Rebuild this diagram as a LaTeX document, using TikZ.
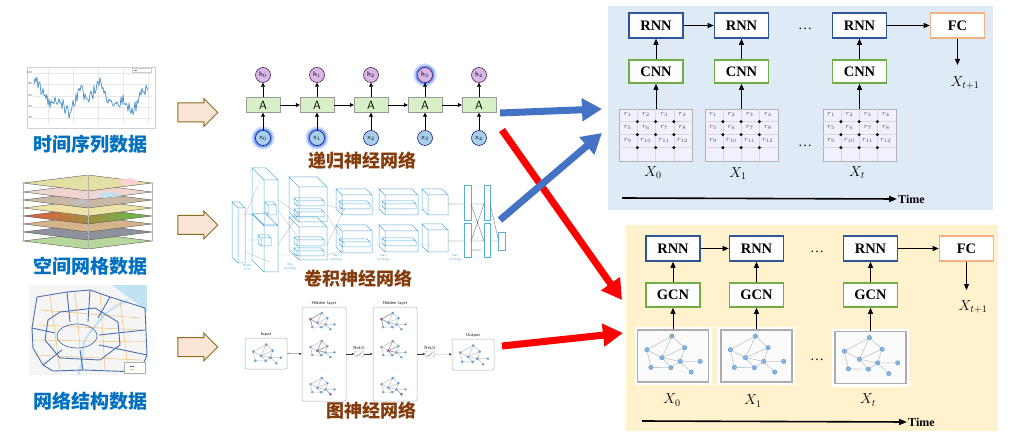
\documentclass[tikz,border=0pt]{standalone}
\usepackage{fontspec}
\setmainfont{Liberation Serif}
\newfontfamily\cjk{Noto Sans CJK SC}
\usetikzlibrary{arrows.meta,shapes.arrows,positioning}

\definecolor{panelblue}{HTML}{DEEBF7}
\definecolor{panelyellow}{HTML}{FFF2CC}
\definecolor{rnnblue}{HTML}{2F5597}
\definecolor{cnngreen}{HTML}{70AD47}
\definecolor{fcorange}{HTML}{F4B183}
\definecolor{datablue}{HTML}{0070C0}
\definecolor{nnbrown}{HTML}{843C0C}
\definecolor{arrowblue}{HTML}{4472C4}
\definecolor{peach}{HTML}{FBE5D6}
\definecolor{peachline}{HTML}{8C6D1F}
\definecolor{cellgreen}{HTML}{D8F0C8}
\definecolor{hpurple}{HTML}{D9B8E8}
\definecolor{xblue}{HTML}{A8D0EC}
\definecolor{gnodeblue}{HTML}{5B9BD5}
\definecolor{alexblue}{HTML}{5AAFD9}
\definecolor{tsblue}{HTML}{4A90C8}
\definecolor{mapolive}{HTML}{E4E0A4}
\definecolor{mappink}{HTML}{EFD4D0}
\definecolor{mapbrown}{HTML}{C8B8A4}
\definecolor{mapsand}{HTML}{EEE2A6}
\definecolor{mapred}{HTML}{E8583A}
\definecolor{mapyellow}{HTML}{EED84A}
\definecolor{mapleaf}{HTML}{5CC44A}
\definecolor{maptan}{HTML}{D6B48A}
\definecolor{mapgray}{HTML}{8F929A}
\definecolor{mapgreen}{HTML}{B6D89C}
\definecolor{rivercyan}{HTML}{BFE3F0}
\definecolor{roadblue}{HTML}{4A6FB0}
\definecolor{roadorange}{HTML}{F2BE6E}

\newcommand{\cnnbox}[5]{%
\draw[alexline] (#1,#2) rectangle ++(#3,#4) (#1,#2) -- ++(-#5,-#5) -- ++(#3,0) -- (#1+#3,#2) (#1,#2+#4) -- ++(-#5,-#5) -- ++(0,-#4);
}

\tikzset{
  rnnbox/.style={draw=rnnblue, line width=1.6pt, fill=white, minimum width=54pt, minimum height=25pt, inner sep=0pt, font=\bfseries\fontsize{14.5}{15}\selectfont},
  convbox/.style={rnnbox, draw=cnngreen, minimum height=23pt},
  fcbox/.style={rnnbox, draw=fcorange},
  flow/.style={-{Triangle[length=6pt,width=5pt]}, line width=0.8pt},
  timeline/.style={-{Triangle[length=8pt,width=6pt]}, line width=1.6pt},
  timetext/.style={font=\bfseries\fontsize{12}{12}\selectfont, anchor=west, inner sep=1pt},
  xlabel/.style={font=\fontsize{14}{14}\selectfont},
  dotstext/.style={font=\fontsize{14}{14}\selectfont},
  datalabel/.style={font=\cjk\bfseries\fontsize{19}{19}\selectfont, text=datablue},
  nnlabel/.style={font=\cjk\bfseries\fontsize{18}{18}\selectfont, text=nnbrown},
  blockarrow/.style={single arrow, draw=peachline, fill=peach, line width=1pt, minimum height=40pt, inner sep=9pt, single arrow head extend=4.5pt},
  bigarrow/.style={line width=7pt, -{Triangle[length=20pt,width=22pt]}},
  cellA/.style={draw=gray!80, fill=cellgreen, minimum width=34pt, minimum height=15pt, inner sep=0pt, font=\sffamily\fontsize{12}{12}\selectfont},
  hstate/.style={circle, draw=violet!50!black, line width=0.5pt, fill=hpurple, minimum size=15pt, inner sep=0pt, font=\sffamily\fontsize{7}{7}\selectfont},
  xstate/.style={hstate, draw=blue!40!black, fill=xblue},
  glowing/.style={preaction={draw=blue!70!cyan, line width=8pt, opacity=0.2}, preaction={draw=blue!70!cyan, line width=4pt, opacity=0.45}},
  smallflow/.style={-{Triangle[length=4pt,width=4pt]}, line width=0.8pt},
  alexline/.style={draw=alexblue, line width=0.5pt},
  alexwire/.style={draw=gray!55, line width=0.3pt},
  gedge/.style={draw=gray!45, line width=0.6pt},
  gnode/.style={fill=gnodeblue!75, draw=gnodeblue},
  gridframe/.style={draw=gray!60, line width=0.8pt, fill=white!94!blue, minimum width=73pt, minimum height=52pt, inner sep=0pt},
  graphframe/.style={draw=gray!65, line width=1.2pt, fill=white!97!gray, minimum width=71pt, minimum height=52pt, inner sep=0pt, preaction={draw=white, line width=6pt}},
  gridline/.style={draw=gray!30, line width=0.5pt},
  rlabel/.style={font=\fontsize{7}{7}\selectfont, text=gray!60!black, inner sep=0pt},
  gpanel/.style={draw=gray!60, line width=0.5pt, rounded corners=2pt, fill=white, inner sep=0pt},
  relubox/.style={draw=gray!70, line width=0.4pt, rounded corners=1pt, minimum width=9pt, minimum height=6pt, inner sep=0pt},
  tinyflow/.style={-{Triangle[length=2.5pt,width=2pt]}, line width=0.4pt, draw=gray!40!black},
  tinytext/.style={font=\sffamily\fontsize{4.5}{5}\selectfont, text=gray!20!black, inner sep=0.5pt},
  ticktext/.style={font=\sffamily\fontsize{3}{3}\selectfont, text=gray!60!black, inner sep=0pt, anchor=east},
  alextext/.style={font=\sffamily\fontsize{3.5}{4}\selectfont, text=alexblue, inner sep=0pt, align=center},
  maplayer/.style={draw=gray!70!black, line width=0.4pt},
  road/.style={draw=roadblue, line width=0.9pt, line join=round},
  orangeroad/.style={draw=roadorange, line width=0.5pt},
  netg/.pic={
    \coordinate (-n1) at (35,6.7);
    \coordinate (-n2) at (10,20.3);
    \coordinate (-n3) at (47.7,18.3);
    \coordinate (-n4) at (25,28.3);
    \coordinate (-n5) at (43.3,32);
    \coordinate (-n6) at (63.3,32);
    \coordinate (-n7) at (14,38);
    \coordinate (-n8) at (34,38.3);
    \coordinate (-n9) at (54.3,42.7);
    \draw[gedge] (-n2) -- (-n1) -- (-n4) -- (-n2) -- (-n7) -- (-n8) -- (-n4) -- (-n5) -- (-n6) (-n1) -- (-n3) -- (-n5) -- (-n9) (-n3) -- (-n4) (-n8) -- (-n5);
    \foreach \g in {1,...,9} \fill[gnode] (-n\g) circle (2.2pt);
  },
  regiongrid/.pic={
    \foreach \c in {1,2,3} \draw[gridline] (\c*18.25,0) -- (\c*18.25,52);
    \foreach \r in {1,2,3} \draw[gridline] (0,\r*13) -- (73,\r*13);
    \foreach \r in {0,1,2} \foreach \c in {0,1,2,3} {
      \pgfmathtruncatemacro\rk{4*\r+\c+1}
      \node[rlabel] at (\c*18.25+8.5,\r*13+6) {$r_{\rk}$};
    }
    \foreach \r in {1,2,3} \foreach \c in {1,2,3} \fill (\c*18.25,\r*13) circle (1.7pt);
  }
}

\begin{document}
\begin{tikzpicture}[x=1pt,y=-1pt]
\useasboundingbox (0,0) rectangle (1022,438);
\fill[white] (0,0) rectangle (1022,438);

\draw[gray!35, fill=white] (27,67) rectangle (155,128);
\draw[gray!18] (33,73) -- (152,73) (33,84) -- (152,84) (33,96) -- (152,96) (33,107) -- (152,107) (33,118) -- (152,118);
\draw[gray!18] (48,69) -- (48,124) (73,69) -- (73,124) (98,69) -- (98,124) (123,69) -- (123,124) (148,69) -- (148,124);
\node[ticktext] (t100) at (32,73) {100};
\node[ticktext] (t80) at (32,84) {80};
\node[ticktext] (t60) at (32,96) {60};
\node[ticktext] (t40) at (32,107) {40};
\node[ticktext] (t20) at (32,118) {20};
\draw[gray!40, fill=white, line width=0.3pt] (132,68.5) rectangle (151,72.5);
\draw[tsblue, line width=0.6pt] (133.5,70.5) -- (137,70.5);
\pgfmathsetseed{5}
\draw[tsblue, line width=0.7pt, line join=round] plot[domain=34:148, samples=115] (\x,{98+9*sin(6*\x+60)+6*sin(17*\x)+7*rand});
\node[datalabel] (tsl) at (90,144) {时间序列数据};

\foreach \yc/\col in {241/mapgreen, 232/mapgray, 224/maptan} \draw[maplayer, fill=\col] (23,\yc) -- (88,\yc-8) -- (152,\yc) -- (88,\yc+8) -- cycle;
\shade[left color=mapred, middle color=mapyellow, right color=mapleaf, draw=gray!70!black, line width=0.4pt] (23,216) -- (88,208) -- (152,216) -- (88,224) -- cycle;
\foreach \yc/\col in {208/mapsand, 200/mapbrown, 192/mappink, 183/mapolive} \draw[maplayer, fill=\col] (23,\yc) -- (88,\yc-8) -- (152,\yc) -- (88,\yc+8) -- cycle;
\fill[pink!70] (118,180) -- (132,178) -- (140,183) -- (124,186) -- cycle;
\fill[rivercyan] (96,194) -- (112,192) -- (122,196) -- (104,198) -- cycle;
\fill[gray!50] (70,201) -- (84,199) -- (92,203) -- (78,205) -- cycle;
\draw[gray!60, line width=0.4pt] (23,183) -- (23,241) (88,175) -- (88,249) (152,183) -- (152,241);
\node[datalabel] (gridl) at (90,266) {空间网格数据};

\fill[gray!8] (29,285) rectangle (147,375);
\fill[rivercyan] (112,285) -- (147,285) -- (147,312) .. controls (135,300) and (124,295) .. (112,285);
\draw[rivercyan, line width=2pt] (128,300) .. controls (105,310) and (100,320) .. (88,335) .. controls (80,345) and (85,360) .. (78,375);
\draw[orangeroad] (40,310) -- (140,318) (35,340) -- (145,342) (50,295) -- (60,370) (100,292) -- (105,370) (120,300) -- (128,370) (35,355) -- (140,360) (38,325) -- (142,330) (75,291) -- (82,370);
\draw[road] (37,297) -- (67,292) -- (90,290) -- (110,297) -- (145,308) -- (147,355) -- (140,372) -- (83,370) -- (53,371) -- (43,365) -- (33,348) -- (32,328) -- cycle;
\draw[road] (60,312) -- (95,308) -- (118,322) -- (120,345) -- (100,360) -- (60,358) -- (45,340) -- (48,320) -- cycle;
\draw[road, line width=0.7pt] (77,336) ellipse (20pt and 12pt);
\draw[road] (67,292) -- (70,322) (90,290) -- (88,322) (32,328) -- (55,333) (145,330) -- (99,335) (83,370) -- (80,350) (110,297) -- (98,318) (43,365) -- (62,350) (147,355) -- (99,345);
\draw[gray!60, fill=white, line width=0.3pt] (124,362) rectangle (145,373);
\draw[roadblue, line width=0.4pt] (130,366) -- (134,366);
\draw[roadorange, line width=0.4pt] (130,369.5) -- (134,369.5);
\node[datalabel] (netl) at (90,401) {网络结构数据};

\node[blockarrow] (arrA) at (193,112.5) {};
\node[blockarrow] (arrB) at (193,225) {};
\node[blockarrow] (arrC) at (193,347) {};

\foreach \i/\xx/\hg/\xg in {0/263//glowing, 1/317//glowing, 2/371//, 3/425/glowing/, 4/479//} {
  \node[cellA] (a\i) at (\xx,105) {A};
  \node[hstate,\hg] (h\i) at (\xx,75) {h$_\i$};
  \node[xstate,\xg] (x\i) at (\xx,138) {x$_\i$};
  \draw[smallflow] (x\i) -- (a\i);
  \draw[smallflow] (a\i) -- (h\i);
}
\foreach \i/\j in {0/1, 1/2, 2/3, 3/4} \draw[smallflow] (a\i) -- (a\j);
\node[nnlabel] (rnnl) at (362,161) {递归神经网络};

\draw[alexwire] (245,215) -- (258,185) (245,215) -- (270,212) (245,240) -- (262,240) (245,252) -- (270,262) (278,200) -- (300,215) (278,210) -- (300,240) (278,245) -- (300,212) (278,255) -- (300,255) (327,205) -- (345,210) (327,215) -- (345,245) (327,245) -- (345,208) (327,255) -- (345,250) (372,210) -- (388,210) (372,245) -- (388,245) (418,210) -- (432,210) (418,245) -- (432,245);
\cnnbox{238}{208}{7}{55}{6}
\cnnbox{264}{180}{14}{45}{12}
\cnnbox{264}{226}{14}{46}{12}
\cnnbox{268}{205}{8}{10}{3}
\cnnbox{261}{238}{10}{8}{3}
\cnnbox{299}{187}{28}{35}{10}
\cnnbox{299}{227}{28}{33}{10}
\cnnbox{297}{201}{27}{5}{3}
\cnnbox{297}{212}{27}{5}{3}
\cnnbox{297}{240}{27}{6}{3}
\cnnbox{297}{251}{27}{5}{3}
\cnnbox{342}{195}{30}{20}{6}
\cnnbox{342}{231}{30}{22}{6}
\cnnbox{342}{204}{28}{5}{3}
\cnnbox{342}{242}{28}{5}{3}
\cnnbox{385}{195}{33}{20}{6}
\cnnbox{385}{231}{33}{21}{6}
\cnnbox{385}{204}{31}{5}{3}
\cnnbox{385}{241}{31}{5}{3}
\cnnbox{428}{195}{20}{20}{6}
\cnnbox{428}{230}{20}{22}{6}
\draw[alexline] (464,185) rectangle (471,220) (464,223) rectangle (471,257) (484,185) rectangle (490,220) (484,223) rectangle (490,257) (498,232) rectangle (505,250);
\draw[alexwire, draw=gray!70!black] (448,204) -- (464,204) (448,241) -- (464,241) (471,204) -- (484,241) (471,241) -- (484,204) (471,204) -- (484,204) (471,241) -- (484,241) (490,204) -- (498,238) (490,241) -- (498,241);
\node[alextext] (strl) at (247,267) {stride\\of 4};
\node[alextext] (mp1) at (290,267) {max\\pooling};
\node[alextext] (mp2) at (336,258) {max\\pooling};
\node[alextext] (mp3) at (383,258) {max\\pooling};
\node[alextext] (mp4) at (455,258) {max\\pooling};
\node[alextext] (dns) at (477,250) {dense};
\node[nnlabel] (cnnl) at (358,279) {卷积神经网络};

\node[gpanel, minimum width=42pt, minimum height=31pt] (gin) at (266,353.5) {};
\node[gpanel, minimum width=44pt, minimum height=94pt] (hid1) at (324,354) {};
\node[gpanel, minimum width=44pt, minimum height=94pt] (hid2) at (395,354) {};
\node[gpanel, minimum width=42pt, minimum height=31pt] (gout) at (473,354.5) {};
\node[relubox] (relu1) at (359,354) {};
\node[relubox] (relu2) at (430,354) {};
\draw[gray!40!black, line width=0.3pt] ([shift={(-3,1.5)}]relu1.center) -- ++(2.5,0) -- ++(3,-3) ([shift={(-3,1.5)}]relu2.center) -- ++(2.5,0) -- ++(3,-3);
\node[tinytext, above=1pt of relu1] (relul1) {ReLU};
\node[tinytext, above=1pt of relu2] (relul2) {ReLU};
\node[tinytext, above=0.5pt of hid1] (hidl1) {Hidden layer};
\node[tinytext, above=0.5pt of hid2] (hidl2) {Hidden layer};
\node[tinytext, above=0.5pt of gin] (inl) {Input};
\node[tinytext, above=0.5pt of gout] (outl) {Output};
\draw[tinyflow] (gin) -- (hid1);
\draw[tinyflow] (hid1) -- (relu1);
\draw[tinyflow] (relu1) -- (hid2);
\draw[tinyflow] (hid2) -- (relu2);
\draw[tinyflow, densely dotted] (relu2) -- (gout);
\pic[scale=0.52] (gi) at (248,341) {netg};
\pic[scale=0.52] (go) at (455,342) {netg};
\pic[scale=0.45] (hA) at (306,310) {netg};
\pic[scale=0.45] (hB) at (306,338) {netg};
\pic[scale=0.45] (hC) at (306,375) {netg};
\pic[scale=0.45] (kA) at (377,310) {netg};
\pic[scale=0.45] (kB) at (377,338) {netg};
\pic[scale=0.45] (kC) at (377,375) {netg};
\draw[gray!75, line width=0.5pt] (hA-n2) -- (hA-n1) (hA-n2) -- (hA-n4) (hA-n2) -- (hA-n7) (hB-n4) -- (hB-n1) (hB-n4) -- (hB-n3) (hB-n4) -- (hB-n5) (hB-n4) -- (hB-n8) (hC-n9) -- (hC-n5) (kA-n2) -- (kA-n1) (kA-n2) -- (kA-n4) (kA-n2) -- (kA-n7) (kB-n4) -- (kB-n1) (kB-n4) -- (kB-n3) (kB-n4) -- (kB-n5) (kB-n4) -- (kB-n8) (kC-n9) -- (kC-n5);
\fill[violet!65] (hA-n2) circle (1.4pt) (hB-n4) circle (1.4pt) (hC-n9) circle (1.4pt) (kA-n2) circle (1.4pt) (kB-n4) circle (1.4pt) (kC-n9) circle (1.4pt);
\node[tinytext, text=gray!60] (hdots1) at (324,369) {...};
\node[tinytext, text=gray!60] (hdots2) at (395,369) {...};
\node[nnlabel] (gcnl) at (371,411) {图神经网络};

\fill[panelblue] (608,6) rectangle (993,210);
\node[rnnbox] (rnnA) at (656,25.5) {RNN};
\node[rnnbox] (rnnB) at (741.5,25.5) {RNN};
\node[rnnbox] (rnnC) at (859.5,25.5) {RNN};
\node[fcbox] (fcA) at (957.5,25.5) {FC};
\node[convbox] (cnnA) at (656,71.5) {CNN};
\node[convbox] (cnnB) at (741.5,71.5) {CNN};
\node[convbox] (cnnC) at (859.5,71.5) {CNN};
\node[gridframe] (gA) at (656,135) {};
\node[gridframe] (gB) at (741.5,135) {};
\node[gridframe] (gC) at (859.5,135) {};
\pic at (gA.north west) {regiongrid};
\pic at (gB.north west) {regiongrid};
\pic at (gC.north west) {regiongrid};
\draw[flow] (rnnA) -- (rnnB);
\draw[flow] (rnnC) -- (fcA);
\foreach \k in {A,B,C} {
  \draw[flow] (cnn\k) -- (rnn\k);
  \draw[flow] (g\k) -- (cnn\k);
}
\node[dotstext] (dotsA) at (805,29) {\dots};
\node[dotstext] (dotsB) at (805,146) {\dots};
\node[xlabel] (xA0) at (653,173) {$X_0$};
\node[xlabel] (xA1) at (738,174) {$X_1$};
\node[xlabel] (xAt) at (857,173) {$X_t$};
\coordinate (fcAtip) at (957.5,65);
\draw[flow] (fcA) -- (fcAtip);
\node[xlabel] (xnextA) at (965,83) {$X_{t+1}$};
\coordinate (tA0) at (622,198);
\node[timetext] (timeA) at (897,199) {Time};
\draw[timeline] (tA0) -- (timeA.west);

\fill[panelyellow] (626,225) rectangle (998,431);
\node[rnnbox] (rnnD) at (673,248.5) {RNN};
\node[rnnbox] (rnnE) at (756.5,248.5) {RNN};
\node[rnnbox] (rnnF) at (870.5,248.5) {RNN};
\node[fcbox] (fcB) at (966.5,248.5) {FC};
\node[convbox, minimum height=24pt] (gcnD) at (673,295) {GCN};
\node[convbox, minimum height=24pt] (gcnE) at (756.5,295) {GCN};
\node[convbox, minimum height=24pt] (gcnF) at (870.5,295) {GCN};
\node[graphframe] (gD) at (673,356) {};
\node[graphframe] (gE) at (756.5,356) {};
\node[graphframe] (gF) at (870.5,357.5) {};
\pic at (gD.north west) {netg};
\pic at (gE.north west) {netg};
\pic at (gF.north west) {netg};
\draw[flow] (rnnD) -- (rnnE);
\draw[flow] (rnnF) -- (fcB);
\foreach \k in {D,E,F} {
  \draw[flow] (gcn\k) -- (rnn\k);
  \draw[flow] (g\k) -- (gcn\k);
}
\node[dotstext] (dotsC) at (817,252) {\dots};
\node[dotstext] (dotsD) at (817,360) {\dots};
\node[xlabel] (xB0) at (672,400) {$X_0$};
\node[xlabel] (xB1) at (753,401) {$X_1$};
\node[xlabel] (xBt) at (868,400) {$X_t$};
\coordinate (fcBtip) at (966.5,290);
\draw[flow] (fcB) -- (fcBtip);
\node[xlabel] (xnextB) at (973,307) {$X_{t+1}$};
\coordinate (tB0) at (642,421);
\node[timetext] (timeB) at (907,422) {Time};
\draw[timeline] (tB0) -- (timeB.west);

\coordinate (rA0) at (502,130);
\coordinate (rA1) at (622,300);
\coordinate (rB0) at (502,346);
\coordinate (rB1) at (623,333);
\coordinate (bA0) at (500,113);
\coordinate (bA1) at (602,109);
\coordinate (bB0) at (500,220);
\coordinate (bB1) at (602,133);
\draw[bigarrow, red] (rA0) -- (rA1);
\draw[bigarrow, red] (rB0) -- (rB1);
\draw[bigarrow, arrowblue] (bA0) -- (bA1);
\draw[bigarrow, arrowblue] (bB0) -- (bB1);
\end{tikzpicture}
\end{document}
